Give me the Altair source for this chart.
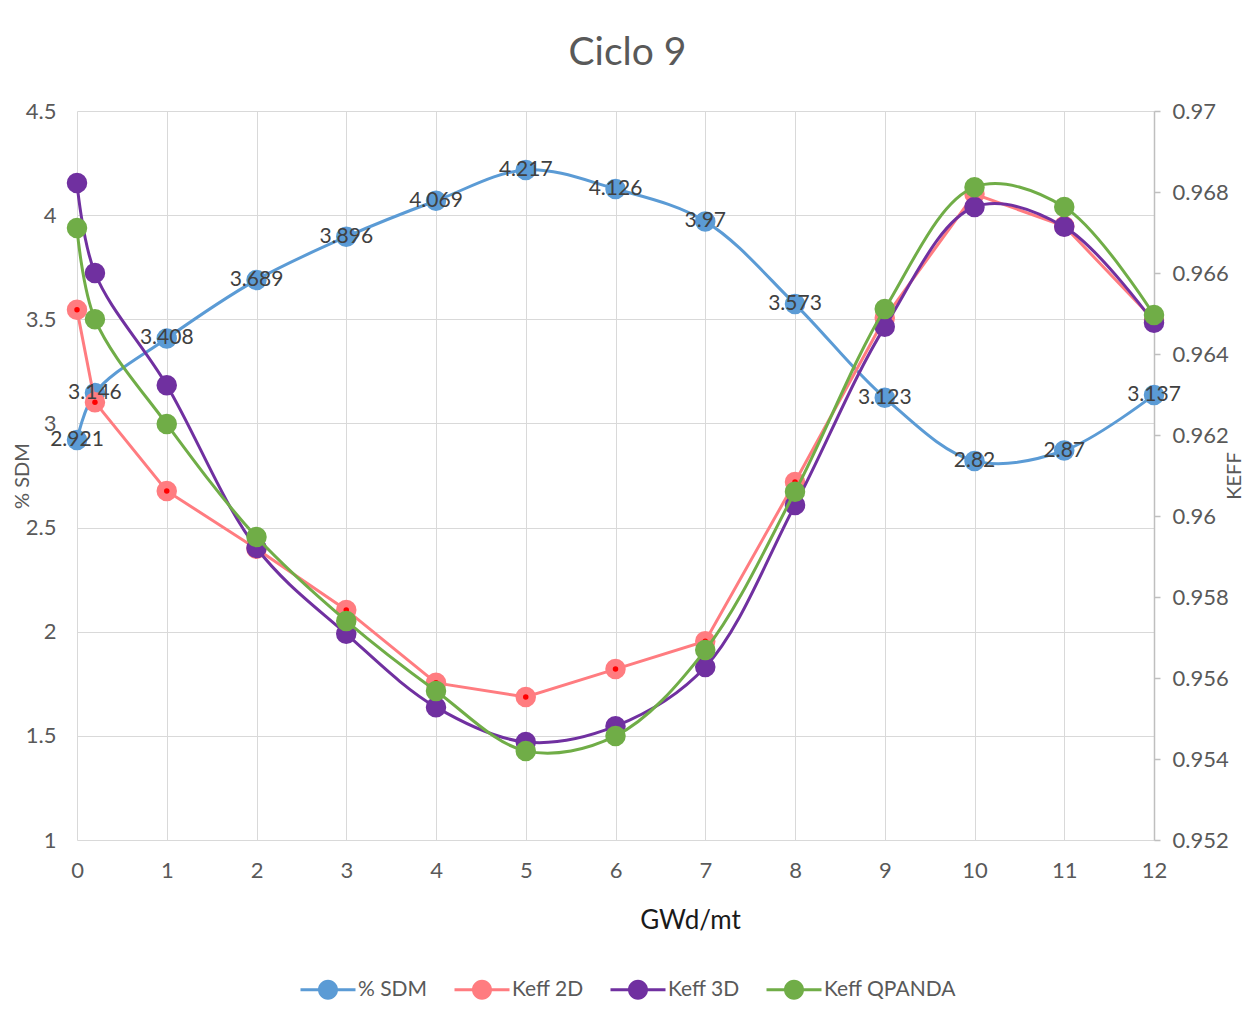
import altair as alt
import pandas as pd

# ---------------- data ----------------
x_vals = [0, 0.2, 1, 2, 3, 4, 5, 6, 7, 8, 9, 10, 11, 12]
sdm = [2.921, 3.146, 3.408, 3.689, 3.896, 4.069, 4.217, 4.126, 3.97, 3.573, 3.123, 2.82, 2.87, 3.137]
keff_2d = [0.96509, 0.96281, 0.96062, 0.95919, 0.95768, 0.95588, 0.95553, 0.95622, 0.95691,
           0.96084, 0.96489, 0.96795, 0.96716, 0.96484]
keff_3d = [0.96822, 0.96600, 0.96323, 0.95921, 0.95709, 0.95528, 0.95442, 0.95481, 0.95627,
           0.96027, 0.96467, 0.96763, 0.96714, 0.96477]
keff_qp = [0.96711, 0.96486, 0.96227, 0.95948, 0.95741, 0.95568, 0.95420, 0.95457, 0.95669,
           0.96060, 0.96511, 0.96812, 0.96763, 0.96496]

series_names = ["% SDM", "Keff 2D", "Keff 3D", "Keff QPANDA"]
series_colors = ["#5b9bd5", "#ff7c80", "#7030a0", "#70ad47"]
x_ticks = [0, 1, 2, 3, 4, 5, 6, 7, 8, 9, 10, 11, 12]
left_ticks = [1, 1.5, 2, 2.5, 3, 3.5, 4, 4.5]
right_ticks = [0.952, 0.954, 0.956, 0.958, 0.96, 0.962, 0.964, 0.966, 0.968, 0.97]

rows = []
for name, vals in zip(series_names, [sdm, keff_2d, keff_3d, keff_qp]):
    for xv, v in zip(x_vals, vals):
        rows.append({"x": xv, "series": name, "value": v, "label": f"{v:g}"})
df = pd.DataFrame(rows)

FONT = "Lato"
GRAY = "#595959"

xscale = alt.Scale(domain=[0, 12], nice=False, zero=False)
xenc = alt.X("x:Q", scale=xscale,
             axis=alt.Axis(values=x_ticks, grid=True, gridColor="#d9d9d9", domain=False, ticks=False,
                           labelFontSize=22, labelColor=GRAY, labelPadding=20, labelFont=FONT,
                           labelFlush=False, labelBound=False,
                           title="GWd/mt", titleFontSize=26, titleColor="#1a1a1a", titleFont=FONT,
                           titleFontWeight="normal", titlePadding=26, titleX=613,
                           titleAlign="center"))

lscale = alt.Scale(domain=[1, 4.5], nice=False, zero=False)
rscale = alt.Scale(domain=[0.952, 0.97], nice=False, zero=False)

color_scale = alt.Scale(domain=series_names, range=series_colors)
legend_path = ("M-1,-0.15 L4.5,-0.15 L4.5,0.15 L-1,0.15 Z "
               "M2.75,0 A1,1 0 1,1 0.75,0 A1,1 0 1,1 2.75,0 Z")
color_enc = alt.Color("series:N", scale=color_scale,
                      legend=alt.Legend(title=None, orient="none", direction="horizontal",
                                        legendX=223, legendY=868,
                                        symbolType=legend_path, symbolSize=400,
                                        symbolStrokeWidth=0, symbolOpacity=1,
                                        labelFontSize=21, labelColor=GRAY, labelFont=FONT,
                                        labelOffset=37, columnPadding=26))

sdm_df = df[df.series == "% SDM"]
left_axis = alt.Axis(values=left_ticks, grid=True, gridColor="#d9d9d9", domain=False, ticks=False,
                     labelFontSize=22, labelColor=GRAY, labelPadding=21, labelFont=FONT, format="~g",
                     title="% SDM", titleFontSize=20, titleColor=GRAY, titleFont=FONT,
                     titleFontWeight="normal", titleX=-55, titleAngle=-90, titleBaseline="middle")

sdm_line = alt.Chart(sdm_df).mark_line(interpolate="catmull-rom", strokeWidth=3,
                                       color=series_colors[0]).encode(
    x=xenc, y=alt.Y("value:Q", scale=lscale, axis=left_axis))
sdm_pts = alt.Chart(sdm_df).mark_point(filled=True, size=420, opacity=1).encode(
    x=xenc, y=alt.Y("value:Q", scale=lscale, axis=left_axis), color=color_enc)
left = alt.layer(sdm_line, sdm_pts)

right_axis = alt.Axis(values=right_ticks, grid=False, domain=True, domainColor="#bfbfbf",
                      domainWidth=1.5, ticks=True, tickColor="#bfbfbf", tickSize=6, tickWidth=1.5,
                      labelFontSize=22, labelColor=GRAY, labelPadding=12, labelFont=FONT,
                      format=".3~f", orient="right",
                      title="KEFF", titleFontSize=20, titleColor=GRAY, titleFont=FONT,
                      titleFontWeight="normal", titleX=80, titleAngle=-90, titleBaseline="middle")
ryenc = alt.Y("value:Q", scale=rscale, axis=right_axis)


def keff_layers(name, interp):
    sub = df[df.series == name]
    col = series_colors[series_names.index(name)]
    ln = alt.Chart(sub).mark_line(interpolate=interp, strokeWidth=3, color=col).encode(
        x=xenc, y=ryenc)
    pt = alt.Chart(sub).mark_point(filled=True, size=420, opacity=1).encode(
        x=xenc, y=ryenc, color=color_enc)
    return [ln, pt]


k2 = keff_layers("Keff 2D", "linear")
k2dot = alt.Chart(df[df.series == "Keff 2D"]).mark_point(
    filled=True, size=30, opacity=1, color="#ff0000").encode(x=xenc, y=ryenc)
k3 = keff_layers("Keff 3D", "catmull-rom")
kq = keff_layers("Keff QPANDA", "catmull-rom")
right = alt.layer(*k2, k2dot, *k3, *kq)

labels = alt.Chart(sdm_df).mark_text(fontSize=21, color="#404040", font=FONT,
                                     align="center", baseline="middle").encode(
    x=xenc, y=alt.Y("value:Q", scale=lscale, axis=None), text="label:N")

chart = alt.layer(left, right, labels).resolve_scale(y="independent").properties(
    width=1077, height=729,
    autosize=alt.AutoSizeParams(type="none"),
    padding={"left": 69, "top": 103, "right": 90, "bottom": 170},
    title=alt.Title("Ciclo 9", fontSize=39, color=GRAY, font=FONT, fontWeight="normal",
                    offset=27, dx=12, anchor="middle"),
).configure_view(stroke=None)

chart.save("out.html", embed_options={"renderer": "svg", "actions": False})
